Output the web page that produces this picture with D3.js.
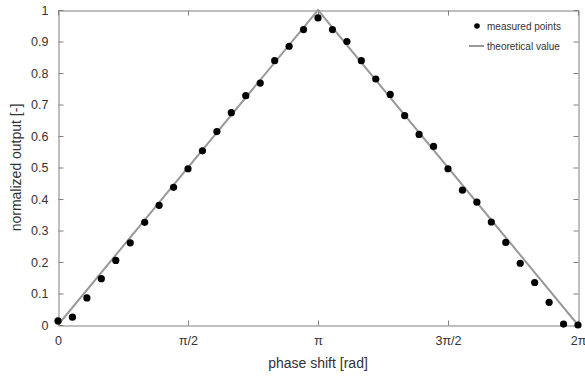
<!DOCTYPE html>
<html>
<head>
<meta charset="utf-8">
<script src="https://cdn.jsdelivr.net/npm/d3@7"></script>
<style>
  body { margin: 0; background: #fff; }
  svg { display: block; font-family: "Liberation Sans", Arial, sans-serif; }
</style>
</head>
<body>
<svg></svg>
<script>
// Phase shift in degrees (plotted as radians via the tick labels)
const phaseDeg = [0, 10, 20, 30, 40, 50, 60, 70, 80, 90, 100, 110, 120, 130, 140, 150, 160, 170, 180,
  190, 200, 210, 220, 230, 240, 250, 260, 270, 280, 290, 300, 310, 320, 330, 340, 350, 360];
const measured = [0.013, 0.025, 0.086, 0.147, 0.205, 0.261, 0.326, 0.380, 0.437, 0.496, 0.553, 0.614,
  0.674, 0.728, 0.768, 0.839, 0.885, 0.938, 0.975, 0.938, 0.900, 0.839, 0.781, 0.732, 0.665, 0.605,
  0.567, 0.496, 0.428, 0.390, 0.327, 0.262, 0.196, 0.135, 0.072, 0.003, 0.0];

const theoryPhase = [0, 180, 360];
const theoryValue = [0, 1, 0];

const xTicks = [0, 90, 180, 270, 360];
const xTickLabels = ["0", "π/2", "π", "3π/2", "2π"];
const yTicks = [0, 0.1, 0.2, 0.3, 0.4, 0.5, 0.6, 0.7, 0.8, 0.9, 1];
const yTickLabels = ["0", "0.1", "0.2", "0.3", "0.4", "0.5", "0.6", "0.7", "0.8", "0.9", "1"];

const width = 585;
const height = 376;
const margin = { top: 10, right: 7, bottom: 51, left: 58 };

const svg = d3.select("svg").attr("width", width).attr("height", height);

const x = d3.scaleLinear().domain([0, 360]).range([margin.left, width - margin.right]);
const y = d3.scaleLinear().domain([0, 1]).range([height - margin.bottom, margin.top]);

const axisColor = "#808080";
const textColor = "#333";

// Box and ticks (pointing inwards, like MATLAB)
function styleAxis(g) {
  g.select(".domain").attr("stroke", axisColor);
  g.selectAll(".tick line").attr("stroke", axisColor);
  g.selectAll(".tick text").attr("fill", textColor).style("font-size", "12.5px");
}

svg.append("g")
  .attr("transform", `translate(0,${y(0) + 0.5})`)
  .call(d3.axisBottom(x).tickValues(xTicks).tickFormat((d, i) => xTickLabels[i])
    .tickSizeInner(-5).tickSizeOuter(0).tickPadding(11))
  .call(styleAxis);

svg.append("g")
  .attr("transform", `translate(0,${y(1) + 0.5})`)
  .call(d3.axisTop(x).tickValues(xTicks).tickFormat("").tickSizeInner(-5).tickSizeOuter(0))
  .call(styleAxis);

svg.append("g")
  .attr("transform", `translate(${x(0) + 0.5},0)`)
  .call(d3.axisLeft(y).tickValues(yTicks).tickFormat((d, i) => yTickLabels[i])
    .tickSizeInner(-5).tickSizeOuter(0).tickPadding(10))
  .call(styleAxis);

svg.append("g")
  .attr("transform", `translate(${x(360) + 0.5},0)`)
  .call(d3.axisRight(y).tickValues(yTicks).tickFormat("").tickSizeInner(-5).tickSizeOuter(0))
  .call(styleAxis);

// Theoretical line
const line = d3.line().x((d) => x(d[0])).y((d) => y(d[1]));
svg.append("path")
  .datum(theoryPhase.map((p, i) => [p, theoryValue[i]]))
  .attr("d", line)
  .attr("fill", "none")
  .attr("stroke", "#999")
  .attr("stroke-width", 2);

// Measured points
svg.append("g")
  .selectAll("circle")
  .data(phaseDeg.map((p, i) => [p, measured[i]]))
  .enter()
  .append("circle")
  .attr("cx", (d) => x(d[0]))
  .attr("cy", (d) => y(d[1]))
  .attr("r", 3.6)
  .attr("fill", "#000");

// Axis labels
svg.append("text")
  .attr("x", x(180))
  .attr("y", 368)
  .attr("text-anchor", "middle")
  .attr("fill", textColor)
  .style("font-size", "14px")
  .text("phase shift [rad]");

svg.append("text")
  .attr("transform", `translate(21,${(y(0) + y(1)) / 2}) rotate(-90)`)
  .attr("text-anchor", "middle")
  .attr("fill", textColor)
  .style("font-size", "14px")
  .text("normalized output [-]");

// Legend
const legend = svg.append("g").attr("transform", "translate(477,26)");
legend.append("circle").attr("cx", 0).attr("cy", 0).attr("r", 2.8).attr("fill", "#000");
legend.append("text").attr("x", 10).attr("y", 3.5).attr("fill", textColor)
  .style("font-size", "10px").text("measured points");
legend.append("line").attr("x1", -8).attr("x2", 7).attr("y1", 20).attr("y2", 20)
  .attr("stroke", "#999").attr("stroke-width", 2);
legend.append("text").attr("x", 10).attr("y", 23.5).attr("fill", textColor)
  .style("font-size", "10px").text("theoretical value");
</script>
</body>
</html>
